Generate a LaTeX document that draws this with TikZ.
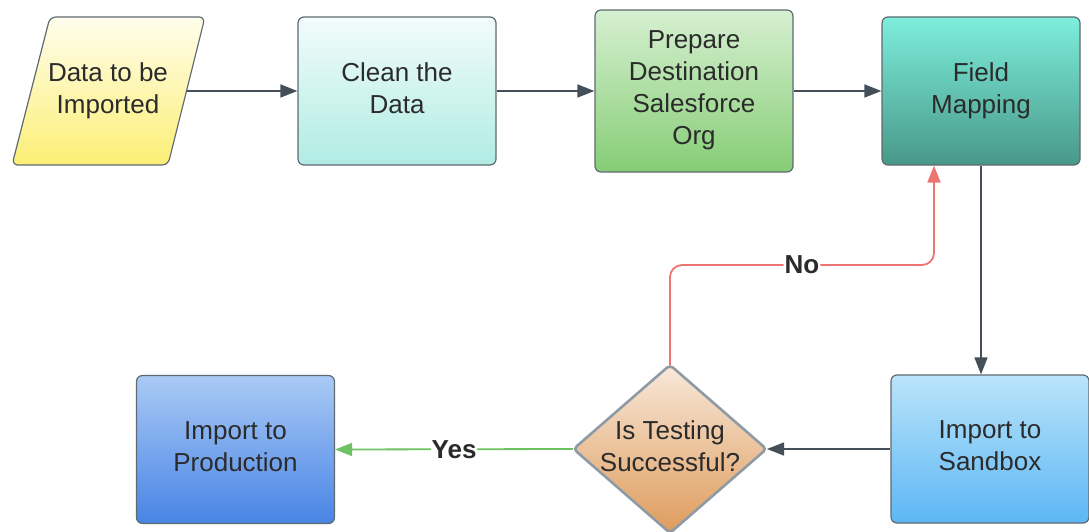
\documentclass[tikz,border=0pt]{standalone}
\usepackage{fontspec}
\setmainfont{Liberation Sans}
\usetikzlibrary{arrows.meta}
\definecolor{edgegray}{HTML}{5F6A72}
\definecolor{arrowdark}{HTML}{444F5A}
\definecolor{txt}{HTML}{2B2B2B}
\definecolor{noRed}{HTML}{EE7471}
\definecolor{yesGreen}{HTML}{6DC262}
\definecolor{diaEdge}{HTML}{8E9BA6}
\tikzset{
  txtfont/.style={text=txt, font=\fontsize{26}{32}\selectfont, align=center},
  box/.style={draw=edgegray, line width=1.2pt, rounded corners=6pt, minimum width=198pt, minimum height=148pt, inner sep=0pt, text depth=6.5pt, txtfont},
  shapeedge/.style={draw=edgegray, line width=1.2pt, rounded corners=6pt},
  flow/.style={draw=arrowdark, line width=1.5pt, -{Triangle[length=17pt,width=13pt]}},
  lab/.style={fill=white, inner sep=1pt, text=txt, font=\fontsize{26}{32}\selectfont\bfseries}
}
\begin{document}
\begin{tikzpicture}[x=1pt,y=-1pt]
\useasboundingbox (0,0) rectangle (1089,532);
% parallelogram
\path[shapeedge, top color={rgb,255:red,255;green,253;blue,236}, bottom color={rgb,255:red,252;green,239;blue,118}]
  (50,17) -- (205,17) -- (168,165) -- (12,165) -- cycle;
\node[txtfont, inner sep=0pt] (data) at (108,90.5) {Data to be\\Imported};
\coordinate (dataE) at (187,91);
% boxes
\node[box, top color={rgb,255:red,242;green,252;blue,251}, bottom color={rgb,255:red,176;green,236;blue,228}] (clean) at (397,91) {Clean the\\Data};
\node[box, minimum height=162pt, top color={rgb,255:red,214;green,240;blue,209}, bottom color={rgb,255:red,134;green,205;blue,118}] (prep) at (694,91) {Prepare\\Destination\\Salesforce\\Org};
\node[box, top color={rgb,255:red,126;green,238;blue,220}, bottom color={rgb,255:red,72;green,152;blue,136}] (field) at (981,91) {Field\\Mapping};
\node[box, top color={rgb,255:red,186;green,228;blue,250}, bottom color={rgb,255:red,92;green,182;blue,244}] (sand) at (990,449) {Import to\\Sandbox};
\node[box, top color={rgb,255:red,170;green,202;blue,246}, bottom color={rgb,255:red,72;green,132;blue,228}] (prod) at (235.5,449.5) {Import to\\Production};
% diamond
\path[draw=diaEdge, line width=2.6pt, rounded corners=4pt, top color={rgb,255:red,248;green,232;blue,218}, bottom color={rgb,255:red,222;green,156;blue,92}]
  (670,365) -- (766.5,449) -- (670,533) -- (573.5,449) -- cycle;
\node[txtfont, inner sep=0pt] (dia) at (670,446) {Is Testing\\Successful?};
\coordinate (diaN) at (670,365);
\coordinate (diaE) at (767,449);
\coordinate (diaW) at (573,449);
\coordinate (c1) at (670,265);
\coordinate (c2) at (934,265);
% connectors
\draw[flow] (dataE) -- (clean.west);
\draw[flow] (clean.east) -- (prep.west);
\draw[flow] (prep.east) -- (field.west);
\draw[flow] (field.south) -- (field.south |- sand.north);
\draw[flow] (sand.west) -- (diaE);
\draw[flow, draw=yesGreen, line width=1.8pt] (diaW) -- node[lab]{Yes} (prod.east);
\draw[flow, draw=noRed, line width=1.8pt, rounded corners=12pt] (diaN) -- (c1) -- node[lab]{No} (c2) -- (field.south -| c2);
\end{tikzpicture}
\end{document}
